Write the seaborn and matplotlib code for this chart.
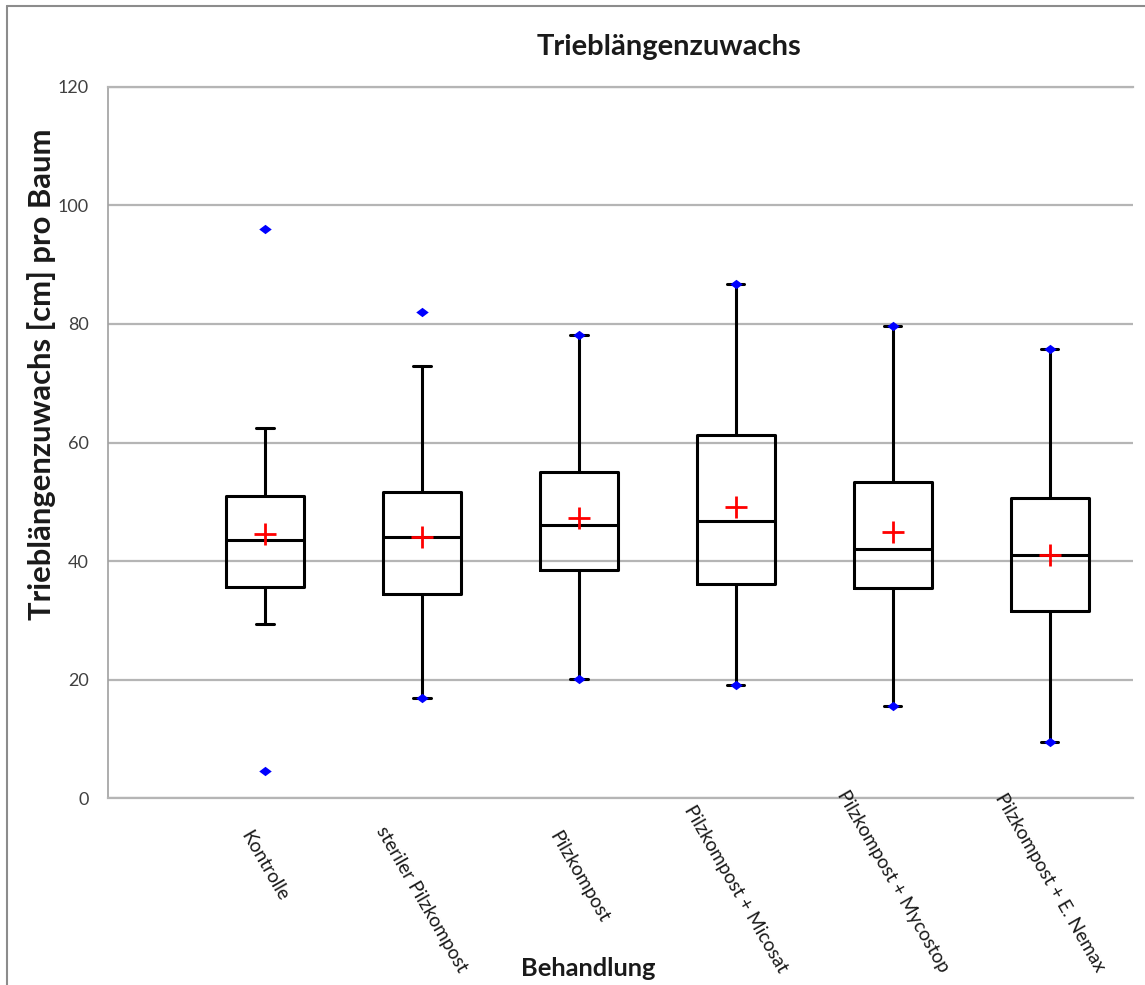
# Trieblängenzuwachs boxplot (Excel-style) nachgebaut mit seaborn
import matplotlib
matplotlib.use("Agg")
import matplotlib.pyplot as plt
import matplotlib.transforms as mtransforms
from matplotlib.lines import Line2D
import pandas as pd
import seaborn as sns

categories = [
    "Kontrolle",
    "steriler Pilzkompost",
    "Pilzkompost",
    "Pilzkompost + Micosat",
    "Pilzkompost + Mycostop",
    "Pilzkompost + E. Nemax",
]

whisker_low = [29.4, 16.8, 20.1, 19.1, 15.6, 9.5]
q1 = [35.7, 34.4, 38.5, 36.2, 35.5, 31.6]
median = [43.6, 44.0, 46.1, 46.7, 42.0, 41.1]
q3 = [50.9, 51.6, 55.0, 61.2, 53.3, 50.6]
whisker_high = [62.4, 72.9, 78.1, 86.7, 79.6, 75.7]
mean = [44.5, 44.0, 47.3, 49.2, 44.9, 41.1]
minimum = [4.5, 16.8, 20.1, 19.1, 15.6, 9.5]
maximum = [96.0, 82.1, 78.1, 86.7, 79.6, 75.7]

y_ticks = [0, 20, 40, 60, 80, 100, 120]

# five values per group -> quartiles come out exactly, whiskers at min/max
box_df = pd.DataFrame({
    "Behandlung": [c for c in categories for _ in range(5)],
    "Wert": [v for vals in zip(whisker_low, q1, median, q3, whisker_high) for v in vals],
})

sns.set_theme(style="white")
plt.rcParams["font.family"] = ["Lato", "DejaVu Sans"]

fig = plt.figure(figsize=(11.45, 9.85), dpi=100)
ax = fig.add_axes([0.0943, 0.1898, 0.8952, 0.7219])

sns.boxplot(
    data=box_df,
    x="Behandlung",
    y="Wert",
    order=categories,
    whis=(0, 100),
    width=0.5,
    fill=False,
    color="black",
    linewidth=2.2,
    capwidths=0.11,
    ax=ax,
)

diamond = [(-1, 0), (0, 0.75), (1, 0), (0, -0.75), (-1, 0)]
sns.stripplot(
    x=categories + categories,
    y=minimum + maximum,
    order=categories,
    jitter=False,
    color="#0000ff",
    marker=diamond,
    size=9,
    linewidth=0,
    zorder=4,
    ax=ax,
)

sns.pointplot(
    x=categories,
    y=mean,
    order=categories,
    color="#ff0000",
    markers="+",
    linestyle="none",
    markersize=16,
    markeredgewidth=2,
    errorbar=None,
    zorder=5,
    ax=ax,
)

ax.set_xlim(-1, 5.53)
ax.set_ylim(0, 120)
ax.set_yticks(y_ticks)
ax.set_yticklabels([str(t) for t in y_ticks], fontsize=13, color="#404040")
ax.set_xticks(range(len(categories)))
ax.set_xticklabels([])
ax.tick_params(axis="x", length=0)
ax.tick_params(axis="y", length=5, width=1.2, color="#999999", direction="out", pad=9)
ax.set_xlabel("")
ax.set_ylabel("")

ax.yaxis.grid(True, color="#b5b5b5", linewidth=1.6)
ax.set_axisbelow(True)
for side in ["top", "bottom"]:
    ax.spines[side].set_color("#b5b5b5")
    ax.spines[side].set_linewidth(1.6)
ax.spines["left"].set_color("#a0a0a0")
ax.spines["left"].set_linewidth(1.2)
ax.spines["right"].set_visible(False)

# rotated category labels
labels = []
for i, cat in enumerate(categories):
    t = ax.text(
        i, -30 / 711, cat,
        transform=ax.get_xaxis_transform(),
        rotation=-60, ha="center", va="top",
        fontsize=13.8, color="#1a1a1a",
    )
    labels.append(t)

fig.text(0.584, 1 - 47 / 985, "Trieblängenzuwachs", ha="center", va="center",
         fontsize=21, fontweight="bold", color="#1a1a1a")
fig.text(0.036, 1 - 374 / 985, "Trieblängenzuwachs [cm] pro Baum", ha="center", va="center",
         rotation=90, fontsize=22.3, fontweight="bold", color="#1a1a1a")
fig.text(588 / 1145, 1 - 968 / 985, "Behandlung", ha="center", va="center",
         fontsize=18.3, fontweight="bold", color="#1a1a1a")

# chart area border (top and left visible)
fig.add_artist(Line2D([7 / 1145, 1], [1 - 6 / 985, 1 - 6 / 985], transform=fig.transFigure,
                      color="#8c8c8c", linewidth=1.5))
fig.add_artist(Line2D([7 / 1145, 7 / 1145], [0, 1 - 6 / 985], transform=fig.transFigure,
                      color="#8c8c8c", linewidth=1.5))

# push long labels up so they stay inside the chart area, like Excel does
fig.canvas.draw()
renderer = fig.canvas.get_renderer()
for t in labels:
    bb = t.get_window_extent(renderer)
    if bb.y0 < 10:
        t.set_transform(t.get_transform() + mtransforms.Affine2D().translate(0, 10 - bb.y0))

fig.savefig("out.png", dpi=100)
